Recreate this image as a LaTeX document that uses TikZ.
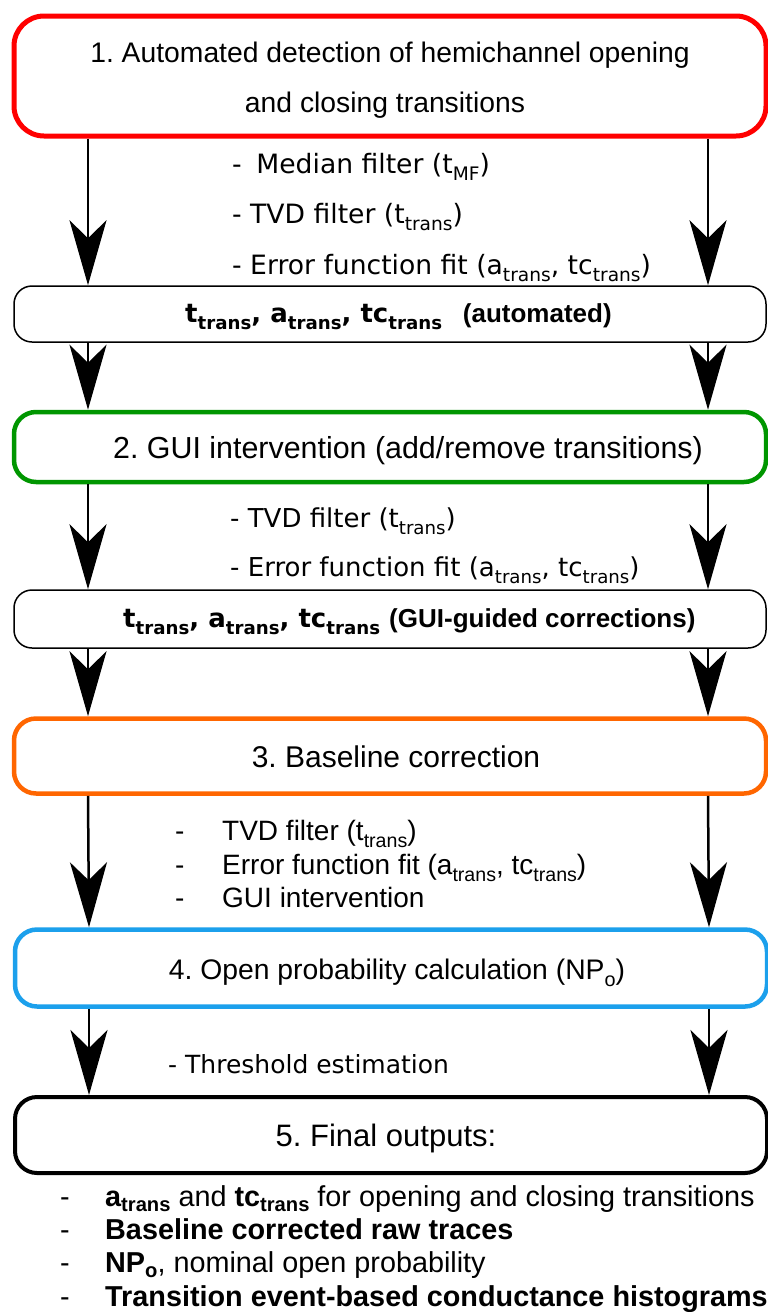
\documentclass[tikz,border=0pt]{standalone}
\usepackage{graphicx}
\usepackage{fontspec}
\setmainfont{Liberation Sans}
\newfontfamily\dvs{DejaVu Sans}
\usetikzlibrary{arrows.meta}
\definecolor{boxred}{RGB}{255,0,0}
\definecolor{boxgreen}{RGB}{0,150,0}
\definecolor{boxorange}{RGB}{255,102,0}
\definecolor{boxblue}{RGB}{28,160,236}
\newcommand\sbx[1]{\raisebox{-0.28em}{\scalebox{0.7}{#1}}}
\newcommand\sbb[1]{\raisebox{-0.2em}{\scalebox{0.7}{#1}}}
\frenchspacing
\begin{document}
\frenchspacing
\begin{tikzpicture}[x=1pt,y=-1pt,
  frame/.style={draw, fill=none, inner sep=0pt, minimum width=752pt},
  thick frame/.style={frame, line width=4.5pt, rounded corners=22pt},
  thin frame/.style={frame, line width=1.5pt, rounded corners=18pt},
  arr/.style={line width=2.5pt, -{Stealth[length=65pt, width=37pt, inset=18pt]}},
  ttl/.style={inner sep=0pt, anchor=base, font=\fontsize{28.3}{34}\selectfont},
  dvl/.style={inner sep=0pt, anchor=base west, font=\dvs\fontsize{26}{30}\selectfont},
  res/.style={inner sep=0pt, anchor=base west, font=\fontsize{26}{30}\selectfont},
  lst/.style={inner sep=0pt, anchor=base west, font=\fontsize{28}{32}\selectfont},
  outl/.style={inner sep=0pt, anchor=base west, font=\fontsize{28.8}{32}\selectfont}
]
\useasboundingbox (0,0) rectangle (768,1312);
\fill[white] (0,0) rectangle (768,1312);

% boxes
\node[thick frame, draw=boxred, line width=5pt, rounded corners=30pt, minimum height=120pt] (b1) at (390,76) {};
\node[thin frame, minimum height=56pt] (b2) at (390,314) {};
\node[thick frame, draw=boxgreen, minimum height=70pt] (b3) at (390,447) {};
\node[thin frame, minimum height=58pt] (b4) at (390,619) {};
\node[thick frame, draw=boxorange, minimum height=75pt] (b5) at (390,756) {};
\node[thick frame, draw=boxblue, minimum height=77pt] (b6) at (391,968) {};
\node[thick frame, draw=black, line width=4pt, minimum height=76pt] (b7) at (391,1135) {};

% arrows
\foreach \a/\b in {b1/b2,b2/b3,b3/b4,b4/b5,b5/b6,b6/b7}{
  \draw[arr] ([xshift=-302pt]\a.south) -- ([xshift=-302pt]\b.north);
  \draw[arr] ([xshift=318pt]\a.south) -- ([xshift=318pt]\b.north);
}

% titles
\node[ttl] (t1a) at (390,62) {1. Automated detection of hemichannel opening};
\node[ttl] (t1b) at (385,112) {and closing transitions};
\node[ttl, font=\fontsize{30.4}{34}\selectfont] (t3) at (408,458) {2. GUI intervention (add/remove transitions)};
\node[ttl, font=\fontsize{30}{34}\selectfont] (t5) at (396,767) {3. Baseline correction};
\node[ttl] (t6) at (397,979) {4. Open probability calculation (NP\sbx{o})};
\node[ttl, font=\fontsize{31}{34}\selectfont] (t7) at (386,1146) {5. Final outputs:};

% results
\node[res] (r2) at (185,322) {{\dvs\bfseries t\sbx{trans}, a\sbx{trans}, tc\sbx{trans}}\hspace{0.8em}\textbf{(automated)}};
\node[res] (r4) at (123,627) {{\dvs\bfseries t\sbx{trans}, a\sbx{trans}, tc\sbx{trans}}\hspace{0.35em}\textbf{(GUI-guided corrections)}};

% step 1 methods
\node[dvl, font=\dvs\fontsize{26.6}{30}\selectfont] (m1a) at (232,173) {-\hspace{0.55em}Median filter (t\sbx{MF})};
\node[dvl, font=\dvs\fontsize{26.6}{30}\selectfont] (m1b) at (232,223) {- TVD filter (t\sbx{trans})};
\node[dvl, font=\dvs\fontsize{26.6}{30}\selectfont] (m1c) at (232,274) {- Error function fit (a\sbx{trans}, tc\sbx{trans})};

% step 2 methods
\node[dvl] (m3a) at (230,527) {- TVD filter (t\sbx{trans})};
\node[dvl] (m3b) at (230,576) {- Error function fit (a\sbx{trans}, tc\sbx{trans})};

% step 3 methods
\node[lst] (m5a) at (175,840) {\makebox[47pt][l]{-}TVD filter (t\sbx{trans})};
\node[lst] (m5b) at (175,874) {\makebox[47pt][l]{-}Error function fit (a\sbx{trans}, tc\sbx{trans})};
\node[lst] (m5c) at (175,907) {\makebox[47pt][l]{-}GUI intervention};

% step 4 method
\node[dvl, font=\dvs\fontsize{25}{30}\selectfont] (m6) at (168,1073) {- Threshold estimation};

% outputs
\node[outl] (o1) at (60,1206) {\makebox[45pt][l]{-}\textbf{a\sbb{trans}} and \textbf{tc\sbb{trans}} for opening and closing transitions};
\node[outl] (o2) at (60,1239) {\makebox[45pt][l]{-}\textbf{Baseline corrected raw traces}};
\node[outl] (o3) at (60,1272) {\makebox[45pt][l]{-}\textbf{NP\sbb{o}}, nominal open probability};
\node[outl] (o4) at (60,1306) {\makebox[45pt][l]{-}\textbf{Transition event-based conductance histograms}};
\end{tikzpicture}
\end{document}
